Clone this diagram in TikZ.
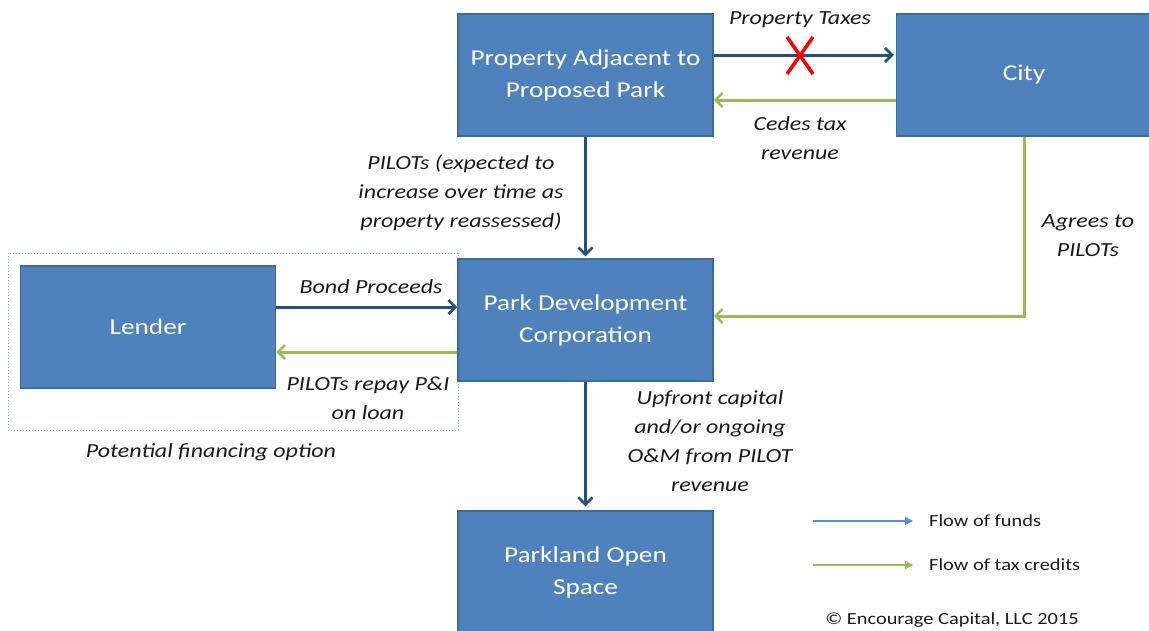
\documentclass[tikz,border=0pt]{standalone}
\usepackage{fontspec}
\setmainfont{Carlito}[FakeStretch=1.2]
\usetikzlibrary{arrows.meta,calc}
\definecolor{boxfill}{HTML}{4F81BD}
\definecolor{boxline}{HTML}{3D6A9C}
\definecolor{fundblue}{HTML}{254E86}
\definecolor{taxgreen}{HTML}{9BBB59}
\definecolor{legblue}{HTML}{5B8FCF}
\definecolor{dotblue}{HTML}{8DB3E2}
\definecolor{labeltext}{HTML}{1A1A1A}
\tikzset{
  entity/.style={draw=boxline, line width=1.5pt, fill=boxfill, text=white,
    minimum width=255pt, minimum height=122pt, align=center, inner sep=2pt,
    font=\fontsize{22.7}{32}\selectfont},
  funds/.style={draw=fundblue, line width=3pt,
    -{Straight Barb[length=7pt,width=14pt,line width=2.5pt]}},
  credits/.style={draw=taxgreen, line width=3pt,
    -{Straight Barb[length=7pt,width=14pt,line width=2.5pt]}},
  flowlabel/.style={text=labeltext, align=center, inner sep=0pt,
    font=\fontsize{20}{29}\selectfont\itshape},
  legtext/.style={text=labeltext, anchor=west, inner sep=0pt,
    font=\fontsize{17}{20}\selectfont},
}
\begin{document}
\begin{tikzpicture}[x=1pt,y=-1pt]
\useasboundingbox (0,0) rectangle (1149,630);
% dotted financing frame
\draw[dotblue, line width=1pt, dotted] (8,253) rectangle (458,430);
% boxes
\node[entity] (prop) at (585.5,75) {\rule{0pt}{6pt}Property Adjacent to\\Proposed Park};
\node[entity] (city) at (1024,75) {City};
\node[entity] (pdc) at (585.5,320) {\rule{0pt}{6pt}Park Development\\Corporation};
\node[entity] (lender) at (148,327) {Lender};
\node[entity] (park) at (585.5,572) {\rule{0pt}{6pt}Parkland Open\\Space};
% property taxes (blocked)
\draw[funds] ($(prop.east)+(0,-20)$) -- ($(city.west)+(-2,-20)$);
\node[flowlabel] (ptlab) at (800,20) {Property Taxes};
\draw[red, line width=3.5pt] (787,37) -- (813,74);
\draw[red, line width=3.5pt] (813,37) -- (787,74);
\coordinate (xmark) at (800,55);
% cedes tax revenue
\draw[credits] ($(city.west)+(0,25)$) -- ($(prop.east)+(0,25)$);
\node[flowlabel] (cedes) at (800,138) {Cedes tax\\revenue};
% PILOTs down
\draw[funds] (prop.south) -- ($(pdc.north)+(0,-2)$);
\node[flowlabel] (pilots) at (461,193) {PILOTs (expected to\\increase over time as\\property reassessed)};
% agrees to PILOTs
\draw[credits] (city.south) |- ($(pdc.east)+(0,-4)$);
\node[flowlabel] (agrees) at (1088,236) {Agrees to\\PILOTs};
% bond proceeds
\draw[funds] ($(lender.east)+(0,-20)$) coordinate (b1) -- (b1 -| pdc.west);
\node[flowlabel] (bondlab) at (371,287) {Bond Proceeds};
% repay
\draw[credits] ($(pdc.west)+(0,32)$) coordinate (g1) -- (g1 -| lender.east);
\node[flowlabel] (repay) at (368,398) {PILOTs repay P\&I\\on loan};
\node[flowlabel] (potential) at (211,452) {Potential financing option};
% upfront capital
\draw[funds] (pdc.south) -- ($(park.north)+(0,-4)$);
\node[flowlabel] (upfront) at (710,441) {Upfront capital\\and/or ongoing\\O\&M from PILOT\\revenue};
% legend
\coordinate (l1a) at (813,521); \coordinate (l1b) at (913,521);
\coordinate (l2a) at (813,565); \coordinate (l2b) at (913,565);
\draw[legblue, line width=1.5pt, -{Triangle[length=8pt,width=8pt]}] (l1a) -- (l1b);
\draw[taxgreen, line width=1.5pt, -{Triangle[length=8pt,width=8pt]}] (l2a) -- (l2b);
\node[legtext] (leg1) at (929,521) {Flow of funds};
\node[legtext] (leg2) at (929,565) {Flow of tax credits};
\node[text=labeltext, inner sep=0pt, font=\fontsize{17}{20}\selectfont] (copy) at (952,620) {© Encourage Capital, LLC 2015};
\end{tikzpicture}
\end{document}
